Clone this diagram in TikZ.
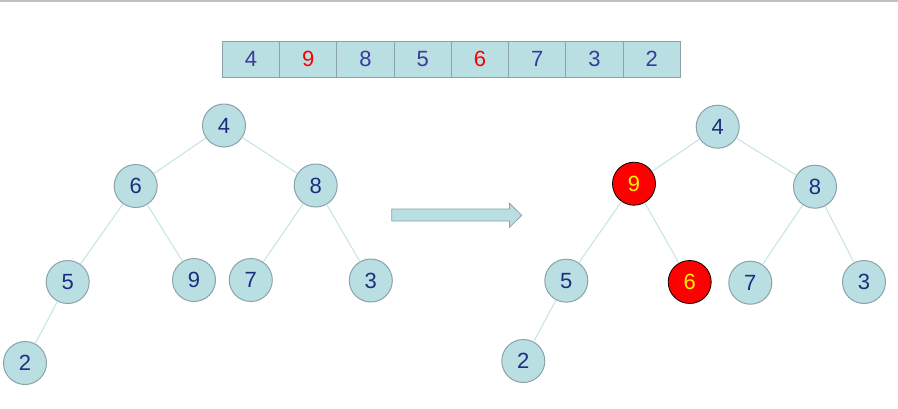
\documentclass[tikz,border=0pt]{standalone}
\usepackage{fontspec}
\setmainfont{Liberation Sans}
\definecolor{cellfill}{HTML}{BADFE3}
\definecolor{cellborder}{HTML}{8AA3A8}
\definecolor{nodetext}{HTML}{1B2F7F}
\definecolor{arrtext}{HTML}{3A3A9C}
\definecolor{edgecol}{HTML}{C3E4E7}
\definecolor{topline}{HTML}{C0C0C0}
\tikzset{
  tnode/.style={circle, draw=cellborder, fill=cellfill, line width=1pt, minimum size=43pt, inner sep=0pt, text=nodetext, font=\fontsize{22}{24}\selectfont},
  hnode/.style={circle, draw=black, fill=red, line width=0.8pt, minimum size=43pt, inner sep=0pt, text=yellow, font=\fontsize{22}{24}\selectfont},
  cell/.style={rectangle, draw=cellborder, fill=cellfill, line width=0.8pt, minimum width=57.25pt, minimum height=36pt, inner sep=0pt, text=arrtext, font=\fontsize{22}{24}\selectfont},
  edge/.style={draw=edgecol, line width=1pt},
  bigarrow/.style={draw=cellborder, fill=cellfill, line width=0.8pt, line join=miter}
}
\begin{document}
\begin{tikzpicture}[x=1pt,y=-1pt]
\useasboundingbox (0,0) rectangle (898,408);
\fill[white] (0,0) rectangle (898,408);
\fill[topline] (0,0) rectangle (898,2);
% array
\foreach \v [count=\i] in {4,9,8,5,6,7,3,2} {
  \pgfmathsetmacro{\cx}{222.3+57.25*(\i-0.5)}
  \node[cell] (c\i) at (\cx,59) {\v};
}
\node[cell, text=red] at (c2) {9};
\node[cell, text=red] at (c5) {6};
% left tree
\node[tnode] (a4) at (224,125.5) {4};
\node[tnode] (a6) at (135.7,186) {6};
\node[tnode] (a8) at (315.7,185.5) {8};
\node[tnode] (a5) at (67.7,282) {5};
\node[tnode] (a9) at (194,280) {9};
\node[tnode] (a7) at (250.8,280) {7};
\node[tnode] (a3) at (370.8,280.5) {3};
\node[tnode] (a2) at (25,363) {2};
\draw[edge] (a4) -- (a6);
\draw[edge] (a4) -- (a8);
\draw[edge] (a6) -- (a5);
\draw[edge] (a6) -- (a9);
\draw[edge] (a8) -- (a7);
\draw[edge] (a8) -- (a3);
\draw[edge] (a5) -- (a2);
% arrow
\draw[bigarrow] (391.7,209) -- (509.5,209) -- (509.5,203.3) -- (521.7,215.3) -- (509.5,227.3) -- (509.5,221) -- (391.7,221) -- cycle;
% right tree
\node[tnode] (b4) at (717.7,126.7) {4};
\node[hnode] (b9) at (634,183.7) {9};
\node[tnode] (b8) at (815,186.7) {8};
\node[tnode] (b5) at (566.3,280.7) {5};
\node[hnode] (b6) at (689.7,282) {6};
\node[tnode] (b7) at (750.3,282.7) {7};
\node[tnode] (b3) at (864,282) {3};
\node[tnode] (b2) at (523.3,361) {2};
\draw[edge] (b4) -- (b9);
\draw[edge] (b4) -- (b8);
\draw[edge] (b9) -- (b5);
\draw[edge] (b9) -- (b6);
\draw[edge] (b8) -- (b7);
\draw[edge] (b8) -- (b3);
\draw[edge] (b5) -- (b2);
\end{tikzpicture}
\end{document}
